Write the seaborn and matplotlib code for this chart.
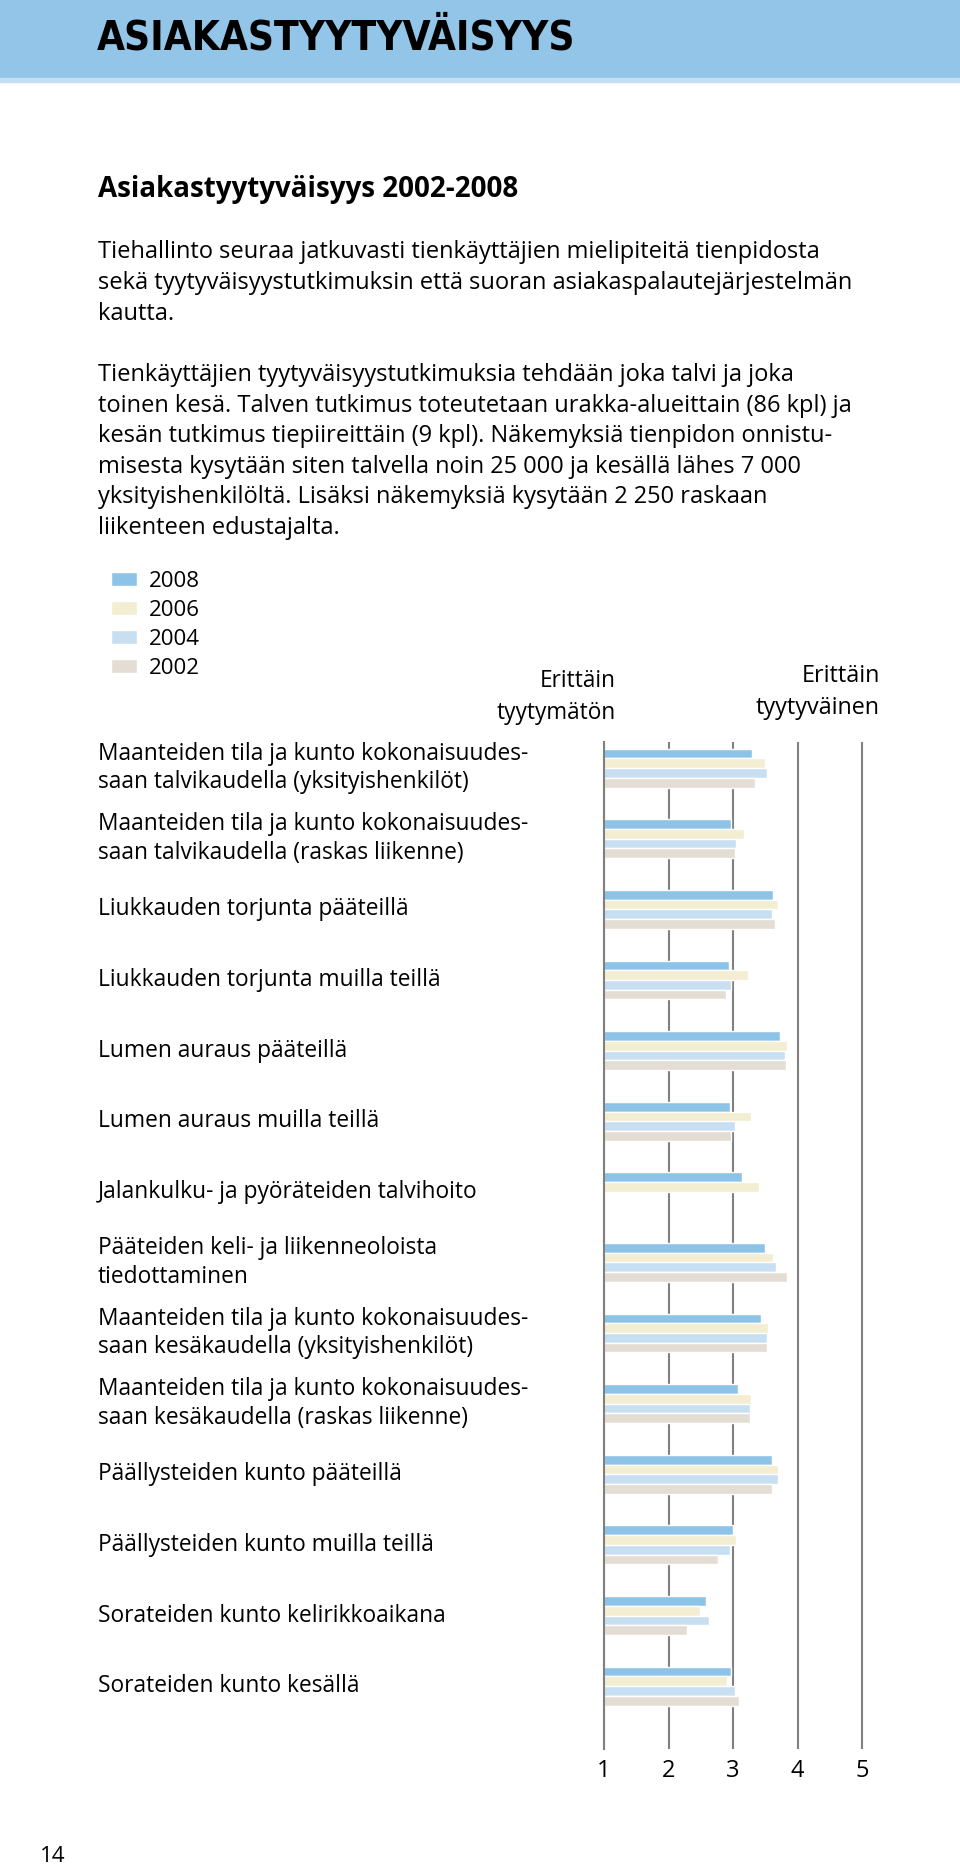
import numpy as np
import pandas as pd
import seaborn as sns
import matplotlib.pyplot as plt
from matplotlib import transforms
from matplotlib import font_manager

categories = [
    "Maanteiden tila ja kunto kokonaisuudes-\nsaan talvikaudella (yksityishenkilöt)",
    "Maanteiden tila ja kunto kokonaisuudes-\nsaan talvikaudella (raskas liikenne)",
    "Liukkauden torjunta pääteillä",
    "Liukkauden torjunta muilla teillä",
    "Lumen auraus pääteillä",
    "Lumen auraus muilla teillä",
    "Jalankulku- ja pyöräteiden talvihoito",
    "Pääteiden keli- ja liikenneoloista\ntiedottaminen",
    "Maanteiden tila ja kunto kokonaisuudes-\nsaan kesäkaudella (yksityishenkilöt)",
    "Maanteiden tila ja kunto kokonaisuudes-\nsaan kesäkaudella (raskas liikenne)",
    "Päällysteiden kunto pääteillä",
    "Päällysteiden kunto muilla teillä",
    "Sorateiden kunto kelirikkoaikana",
    "Sorateiden kunto kesällä",
]
years = ["2008", "2006", "2004", "2002"]
v2008 = [3.30, 2.97, 3.62, 2.94, 3.73, 2.95, 3.14, 3.49, 3.44, 3.07, 3.61, 3.00, 2.58, 2.97]
v2006 = [3.49, 3.17, 3.69, 3.23, 3.83, 3.28, 3.40, 3.62, 3.55, 3.28, 3.69, 3.04, 2.49, 2.90]
v2004 = [3.52, 3.04, 3.61, 2.97, 3.80, 3.03, np.nan, 3.66, 3.52, 3.26, 3.70, 2.95, 2.63, 3.03]
v2002 = [3.34, 3.03, 3.65, 2.89, 3.82, 2.97, np.nan, 3.83, 3.53, 3.26, 3.61, 2.77, 2.29, 3.09]
scale_ticks = [1, 2, 3, 4, 5]

colors = {"2008": "#8ec3e8", "2006": "#f3edd2", "2004": "#c8dff2", "2002": "#e4ddd3"}

title = "ASIAKASTYYTYVÄISYYS"
subtitle = "Asiakastyytyväisyys 2002-2008"
para1 = [
    "Tiehallinto seuraa jatkuvasti tienkäyttäjien mielipiteitä tienpidosta",
    "sekä tyytyväisyystutkimuksin että suoran asiakaspalautejärjestelmän",
    "kautta.",
]
para2 = [
    "Tienkäyttäjien tyytyväisyystutkimuksia tehdään joka talvi ja joka",
    "toinen kesä. Talven tutkimus toteutetaan urakka-alueittain (86 kpl) ja",
    "kesän tutkimus tiepiireittäin (9 kpl). Näkemyksiä tienpidon onnistu-",
    "misesta kysytään siten talvella noin 25 000 ja kesällä lähes 7 000",
    "yksityishenkilöltä. Lisäksi näkemyksiä kysytään 2 250 raskaan",
    "liikenteen edustajalta.",
]

df = pd.DataFrame({
    "kategoria": categories * 4,
    "vuosi": sum([[y] * len(categories) for y in years], []),
    "arvo": v2008 + v2006 + v2004 + v2002,
}).dropna()

sns.set_style("white")
plt.rcParams["font.family"] = ["Open Sans", "DejaVu Sans"]
plt.rcParams["text.color"] = "black"
plt.rcParams["xtick.color"] = "black"

W, H = 960, 1870
fig = plt.figure(figsize=(W / 100, H / 100), dpi=100)


def fx(px):
    return px / W


def fy(py):
    return 1 - py / H


# header band
fig.patches.append(plt.Rectangle((0, fy(78)), 1, 78 / H, transform=fig.transFigure,
                                 color="#92c5e8", zorder=0))
fig.patches.append(plt.Rectangle((0, fy(82)), 1, 4 / H, transform=fig.transFigure,
                                 color="#c4def2", zorder=0))

names = {f.name for f in font_manager.fontManager.ttflist}
if "Liberation Sans Narrow" in names:
    fig.text(fx(97), fy(39), title, fontsize=33, fontweight="bold",
             family="Liberation Sans Narrow", va="center", ha="left")
else:
    fig.text(fx(97), fy(39), title, fontsize=29, fontweight="heavy",
             family="DejaVu Sans", fontstretch="condensed", va="center", ha="left")

fig.text(fx(98), fy(190), subtitle, fontsize=20, fontweight="bold", va="center")
for i, line in enumerate(para1):
    fig.text(fx(98), fy(252 + i * 31), line, fontsize=17, va="center")
for i, line in enumerate(para2):
    fig.text(fx(98), fy(375 + i * 30.6), line, fontsize=17, va="center")

# chart axes: x=1 at 604px, 64.5 px per unit, gridlines from 742 to 1749
x0, x1 = 1, 5.12
top, bottom = 742, 1749
ax = fig.add_axes([fx(604), fy(bottom), (x1 - x0) * 64.5 / W, (bottom - top) / H])

sns.barplot(data=df, y="kategoria", x="arvo", hue="vuosi", order=categories,
            hue_order=years, palette=colors, orient="h", width=0.55,
            errorbar=None, saturation=1, ax=ax, zorder=2)

ax.set_xlim(x0, x1)
ax.set_ylim(13.89, -0.37)
ax.set_xticks(scale_ticks)
ax.set_xticklabels([str(t) for t in scale_ticks], fontsize=17)
ax.set_yticks([])
ax.set_xlabel("")
ax.set_ylabel("")
ax.tick_params(axis="x", length=0, pad=7)
ax.grid(axis="x", color="#808080", linewidth=1.5, zorder=0)
ax.set_axisbelow(True)
for side in ["top", "right", "bottom"]:
    ax.spines[side].set_visible(False)
ax.spines["left"].set_color("#808080")
ax.spines["left"].set_linewidth(1.5)

label_tr = transforms.blended_transform_factory(fig.transFigure, ax.transData)
for i, cat in enumerate(categories):
    ax.text(fx(98), i, cat, transform=label_tr, ha="left", va="center",
            fontsize=16.4, linespacing=1.25, clip_on=False)

handles, labels = ax.get_legend_handles_labels()
ax.legend(handles, labels, loc="upper left", bbox_to_anchor=(fx(111), fy(571)),
          bbox_transform=fig.transFigure, frameon=False, fontsize=16,
          handlelength=1.17, handleheight=0.59, handletextpad=0.54,
          labelspacing=0.36, borderpad=0, borderaxespad=0)

fig.text(fx(616), fy(697), "Erittäin\ntyytymätön", fontsize=16.3, ha="right",
         va="center", multialignment="right", linespacing=1.4)
fig.text(fx(880), fy(692), "Erittäin\ntyytyväinen", fontsize=16.8, ha="right",
         va="center", multialignment="right", linespacing=1.4)

fig.text(fx(40), fy(1856), "14", fontsize=16, va="center")

fig.savefig("out.png", dpi=100)
